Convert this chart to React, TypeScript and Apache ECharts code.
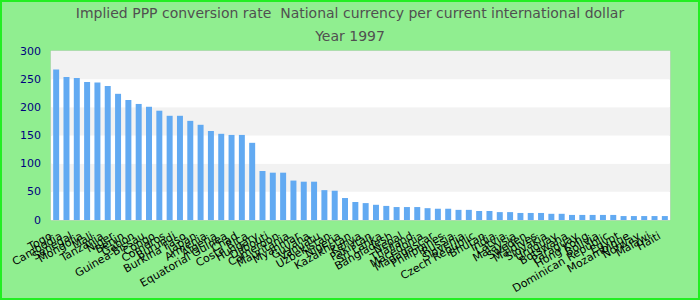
import React, { useEffect, useRef } from "react";
import * as echarts from "echarts";

const countries = [
  "Togo", "Cambodia", "Senegal", "Mongolia", "Mali", "Tanzania", "Niger", "Benin", "Gabon", "Guinea-Bissau",
  "Congo", "Comoros", "Burundi", "Burkina Faso", "Japan", "Armenia", "Algeria", "Equatorial Guinea", "Chad", "Costa Rica",
  "Hungary", "Djibouti", "Cameroon", "Mauritania", "Myanmar", "Guyana", "Vanuatu", "Uzbekistan", "Nigeria", "Kazakhstan",
  "Kenya", "Pakistan", "Sri Lanka", "Bangladesh", "Nepal", "Thailand", "Macedonia", "Madagascar", "Philippines", "Russia",
  "Slovenia", "Czech Republic", "Bhutan", "India", "Latvia", "Malaysia", "Sweden", "Maldives", "Slovakia", "Uruguay",
  "Botswana", "Paraguay", "Hong Kong", "Bolivia", "Dominican Republic", "Egypt", "Mozambique", "Norway", "Malawi", "Haiti",
];

const values = [
  267, 254, 252, 245, 244, 238, 224, 213, 206, 201,
  194, 185, 185, 176, 169, 158, 153, 151, 151, 137,
  87, 84, 84, 70, 68, 68, 53, 52, 39, 32,
  30, 27, 25, 23, 23, 23, 21, 20, 20, 18,
  18, 16, 16, 14, 14, 12.5, 12.5, 12.5, 11, 11,
  9, 9, 9, 9, 9, 7, 7, 7, 7, 7,
];

const titleLines = [
  "Implied PPP conversion rate  National currency per current international dollar",
  "Year 1997",
];

export default function App() {
  const ref = useRef<HTMLDivElement>(null);
  useEffect(() => {
    if (!ref.current) return;
    const chart = echarts.init(ref.current, undefined, { renderer: "svg" });
    chart.setOption({
      animation: false,
      backgroundColor: "#90ee90",
      textStyle: { fontFamily: "DejaVu Sans" },
      title: {
        text: titleLines.join("\n"),
        left: "center",
        top: -6,
        textStyle: {
          fontSize: 14,
          fontWeight: "normal",
          color: "#505050",
          lineHeight: 23,
          fontFamily: "DejaVu Sans",
        },
      },
      grid: {
        left: 49,
        right: 28,
        top: 49,
        bottom: 78,
        show: true,
        backgroundColor: "#ffffff",
        borderColor: "#cccccc",
        borderWidth: 1,
      },
      xAxis: {
        type: "category",
        data: countries,
        axisLine: { show: false },
        axisTick: { show: false },
        axisLabel: {
          interval: 0,
          rotate: 30,
          fontSize: 11,
          color: "#000000",
          margin: 12,
          padding: [0, 6, 0, 0],
          fontFamily: "DejaVu Sans",
        },
      },
      yAxis: {
        type: "value",
        min: 0,
        max: 300,
        interval: 50,
        axisLine: { show: false },
        axisTick: { show: false },
        splitLine: { show: false },
        splitArea: { show: true, areaStyle: { color: ["#ffffff", "#f2f2f2"] } },
        axisLabel: { color: "#00007f", fontSize: 11, margin: 10, fontFamily: "DejaVu Sans" },
      },
      series: [
        {
          type: "bar",
          data: values,
          barWidth: "58%",
          itemStyle: { color: "#62aaf2" },
        },
      ],
    });
    return () => chart.dispose();
  }, []);
  return (
    <div
      style={{
        position: "fixed",
        left: 0,
        top: 0,
        width: 700,
        height: 300,
        boxSizing: "border-box",
        border: "2px solid #22ee22",
        background: "#90ee90",
      }}
    >
      <div ref={ref} style={{ width: 696, height: 296 }} />
    </div>
  );
}
